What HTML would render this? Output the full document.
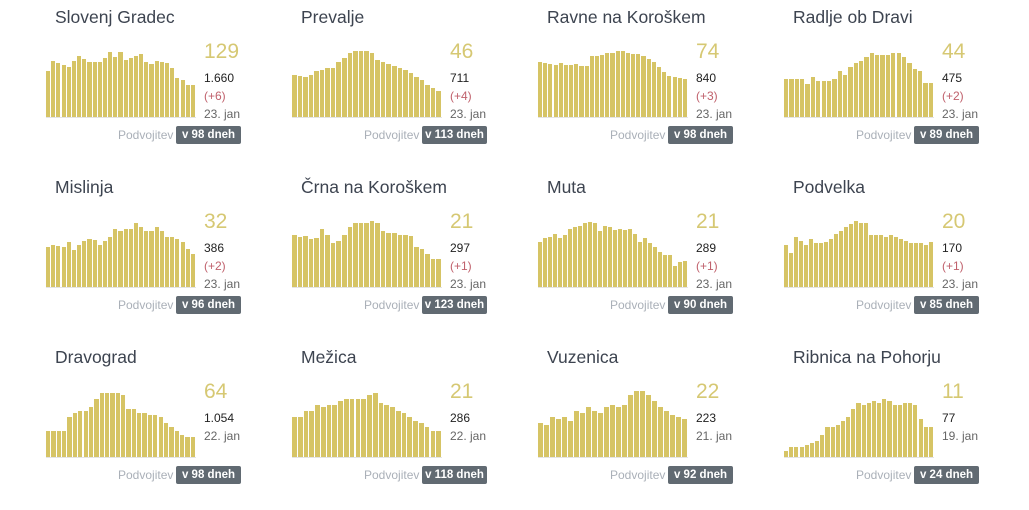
<!DOCTYPE html>
<html><head><meta charset="utf-8"><style>
body{margin:0;width:1029px;height:489px;background:#fff;font-family:"Liberation Sans",sans-serif;position:relative;overflow:hidden}
.p{position:absolute;width:246px;height:170px}
.t{position:absolute;left:17px;top:7px;font-size:17.5px;color:#3d4450}
.bars{position:absolute;left:0;top:44px;width:150px;height:73px;border-bottom:1px solid #e4e4e4}
.bars div{position:absolute;bottom:0;width:4px;background:#d6c465}
.big{position:absolute;left:158px;top:40px;font-size:21px;color:#d6c873}
.s{position:absolute;left:158px;font-size:12px}
.pod{position:absolute;top:128px;font-size:12px;color:#aab0b8}
.b{position:absolute;top:126px;width:65px;height:18px;background:#616a72;color:#fff;font-weight:bold;font-size:11.5px;line-height:18px;text-align:center;border-radius:2px}
</style></head><body>
<script>
const D=[
["Slovenj Gradec","129","1.660","(+6)","23. jan","v 98 dneh",[46,56,54,52,50,56,61,58,55,55,55,59,65,60,65,57,59,61,63,55,53,56,55,54,49,39,37,32,32]],
["Prevalje","46","711","(+4)","23. jan","v 113 dneh",[42,41,40,42,46,47,49,49,55,59,64,66,66,66,64,57,55,53,51,49,47,44,40,37,32,29,26]],
["Ravne na Koroškem","74","840","(+3)","23. jan","v 98 dneh",[55,54,53,52,54,52,52,53,51,51,61,61,62,64,64,66,66,64,63,63,61,58,55,50,45,41,40,39,38]],
["Radlje ob Dravi","44","475","(+2)","23. jan","v 89 dneh",[38,38,38,38,33,40,36,36,36,38,46,42,50,54,56,60,64,62,62,62,64,64,60,54,48,46,34,34]],
["Mislinja","32","386","(+2)","23. jan","v 96 dneh",[40,42,41,40,45,37,42,46,48,47,42,46,50,58,56,58,58,64,60,56,56,60,56,50,50,48,45,38,33]],
["Črna na Koroškem","21","297","(+1)","23. jan","v 123 dneh",[52,50,51,48,49,58,52,44,46,52,60,64,64,64,66,64,56,54,54,52,52,51,40,38,33,28,28]],
["Muta","21","289","(+1)","23. jan","v 90 dneh",[45,49,50,53,49,52,58,60,61,64,65,64,56,61,60,57,58,57,58,53,45,49,44,40,35,32,32,21,25,26]],
["Podvelka","20","170","(+1)","23. jan","v 85 dneh",[42,34,50,46,42,48,44,44,45,48,53,56,60,63,66,64,64,52,52,52,50,52,50,48,46,44,44,44,42,45]],
["Dravograd","64","1.054","","22. jan","v 98 dneh",[26,26,26,26,40,44,46,46,50,58,64,64,64,64,62,48,48,44,44,42,42,40,34,30,26,22,20,20]],
["Mežica","21","286","","22. jan","v 118 dneh",[40,40,46,46,52,50,52,52,56,58,58,58,58,62,64,54,52,50,46,44,40,36,34,30,26,26]],
["Vuzenica","22","223","","21. jan","v 92 dneh",[34,32,40,38,40,36,46,44,50,46,44,50,52,50,52,62,66,66,62,56,50,46,42,40,38]],
["Ribnica na Pohorju","11","77","","19. jan","v 24 dneh",[6,10,10,10,12,14,16,22,30,30,32,36,40,48,54,52,54,56,54,58,56,52,52,54,54,52,38,30,30]]
];
let h='';
D.forEach((d,i)=>{
 const L=46+(i%4)*246-8,T=Math.floor(i/4)*170;
 let bars='';const n=d[6].length,pitch=150/n;
 d[6].forEach((v,j)=>{bars+=`<div style="left:${(j*pitch).toFixed(1)}px;width:${(pitch-1).toFixed(1)}px;height:${v}px"></div>`});
 const hasP=d[3]!=='';
 h+=`<div class="p" style="left:${L}px;top:${T}px"><div class="t">${d[0]}</div><div class="bars" style="left:8px">${bars}</div>
 <div class="big" style="left:166px">${d[1]}</div>
 <div class="s" style="left:166px;top:71px;color:#222">${d[2]}</div>
 ${hasP?`<div class="s" style="left:166px;top:89px;color:#c0616c">${d[3]}</div><div class="s" style="left:166px;top:107px;color:#666">${d[4]}</div>`:`<div class="s" style="left:166px;top:89px;color:#666">${d[4]}</div>`}
 <div class="pod" style="left:80px">Podvojitev</div><div class="b" style="left:138px">${d[5]}</div></div>`;
});
document.write(h);
</script>
</body></html>
